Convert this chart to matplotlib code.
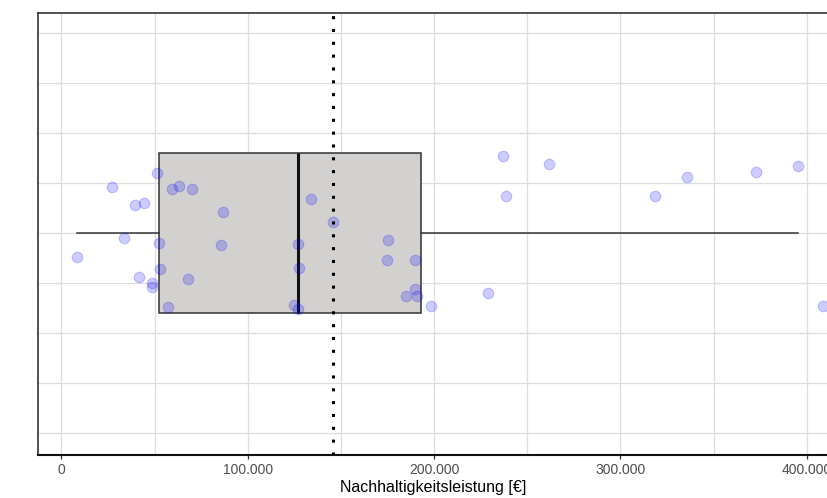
import matplotlib
matplotlib.use("Agg")
import matplotlib.pyplot as plt
import numpy as np

plt.rcParams['font.family'] = ['Liberation Sans', 'DejaVu Sans']

# Data (values in EUR)
point_values = [51400, 26900, 59500, 62900, 70000, 39600, 44100, 86700, 133900, 145600,
                33700, 52200, 85600, 126800, 175100, 8500, 52900, 127500, 174900, 189700,
                41800, 48400, 48600, 67900, 57300, 124800, 126800, 189700, 184900, 191000,
                198200, 237000, 261800, 238600, 318700, 335600, 372600, 395500, 229100, 408900]
point_jitter = [0.300, 0.228, 0.222, 0.237, 0.222, 0.142, 0.148, 0.105, 0.168, 0.055,
                -0.027, -0.052, -0.060, -0.055, -0.035, -0.120, -0.180, -0.177, -0.137, -0.137,
                -0.219, -0.249, -0.270, -0.229, -0.372, -0.362, -0.379, -0.280, -0.314, -0.317,
                -0.364, 0.383, 0.343, 0.185, 0.185, 0.282, 0.303, 0.335, -0.300, -0.364]

box_q1 = 52500
box_median = 126800
box_q3 = 192800
whisker_low = 8500
whisker_high = 395500
mean_value = 145600

x_ticks = [0, 100000, 200000, 300000, 400000]
x_tick_labels = ["0", "100.000", "200.000", "300.000", "400.000"]
x_label = "Nachhaltigkeitsleistung [€]"

fig = plt.figure(figsize=(8.28, 4.98), dpi=100)
ax = fig.add_axes([38/828, 1-455/498, 1-38/828, (455-13)/498])

ax.set_xlim(-12600, 411400)
ax.set_ylim(-1.11, 1.10)

# grid
for v in np.arange(-50000, 450001, 50000):
    ax.axvline(v, color='#dedede', lw=0.9, zorder=0)
for v in np.arange(-1.0, 1.01, 0.25):
    ax.axhline(v, color='#dedede', lw=0.9, zorder=0)

stats = [dict(med=box_median, q1=box_q1, q3=box_q3, whislo=whisker_low, whishi=whisker_high, fliers=[])]
ax.bxp(stats, positions=[0], vert=False, widths=0.8, patch_artist=True, showcaps=False,
       boxprops=dict(facecolor='#d3d1cf', edgecolor='#333333', linewidth=1.1),
       medianprops=dict(color='#111111', linewidth=2.2),
       whiskerprops=dict(color='#333333', linewidth=1.1), zorder=2)

ax.scatter(point_values, point_jitter, s=58, color='#0000ff', alpha=0.2,
           edgecolors='#0000ff', linewidths=0.8, zorder=3)

ax.axvline(mean_value, color='black', lw=2.2, linestyle=(0, (1, 3.2)), zorder=4)

ax.set_xticks(x_ticks)
ax.set_xticklabels(x_tick_labels, color='#4d4d4d', fontsize=10)
ax.set_yticks([])
ax.tick_params(axis='x', length=3, width=0.9, color='#333333', pad=3)
ax.set_xlabel(x_label, fontsize=11.5, color='black', labelpad=2)

for s in ['left', 'bottom', 'top']:
    ax.spines[s].set_color('#333333')
    ax.spines[s].set_linewidth(1.2)
ax.spines['bottom'].set_color('#111111')
ax.spines['bottom'].set_linewidth(1.5)
ax.spines['right'].set_visible(False)

fig.savefig('out.png', dpi=100)
